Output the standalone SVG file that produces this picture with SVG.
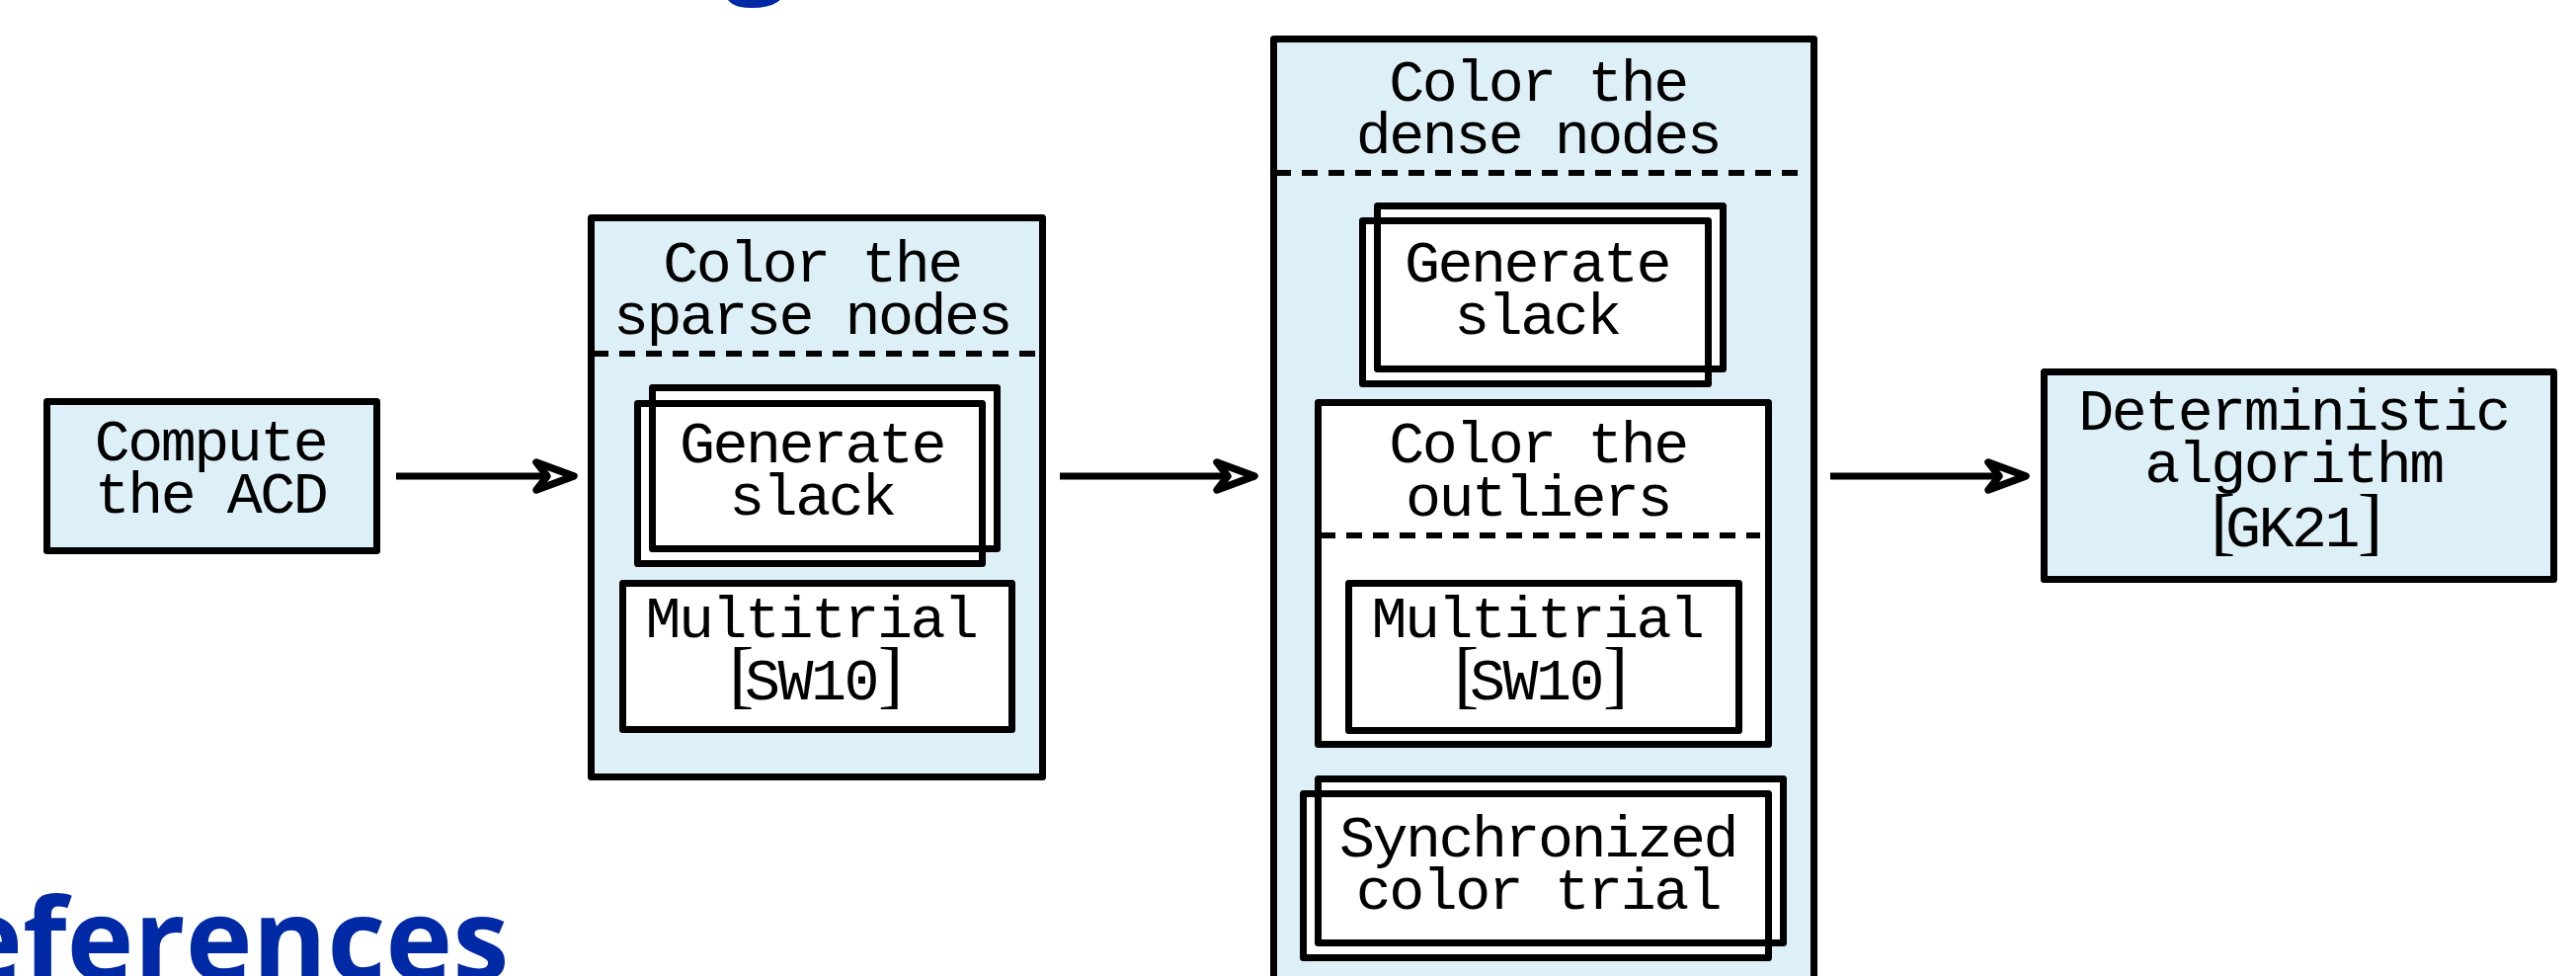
<svg xmlns="http://www.w3.org/2000/svg" width="2608" height="988" viewBox="0 0 2608 988">
<defs>
<style>
.box{stroke:#000;stroke-width:7;stroke-linejoin:round}
.line{fill:none;stroke:#000;stroke-width:7;stroke-linejoin:round}
.fillw{fill:#fff;stroke:none}
.blue{fill:#def0f7}
.white{fill:#fff}
.dash{stroke:#000;stroke-width:6;stroke-dasharray:16 11;fill:none}
.t{font-family:"Liberation Mono",monospace;font-size:60px;letter-spacing:-2.5px;fill:#000;text-anchor:middle}
.ts{text-anchor:start}
.br{font-family:"Liberation Serif",serif;font-size:76px;letter-spacing:0}
.title{font-family:"Open Sans","Noto Sans",sans-serif;font-weight:700;font-size:115px;fill:#0029a6}
.conn{stroke:#000;stroke-width:7;fill:none}
</style>
<marker id="arr" markerUnits="userSpaceOnUse" viewBox="-20 -20 60 40" refX="0" refY="0" markerWidth="60" markerHeight="40" orient="auto" overflow="visible">
<path d="M0,0 L-11,-14 L27,0 L-11,14 Z" fill="#fff" stroke="#000" stroke-width="7.5" stroke-linejoin="round"/>
</marker>
</defs>
<rect x="0" y="0" width="2608" height="988" fill="#fff"/>

<g id="titles">
<text class="title" x="766" y="-20" text-anchor="middle">g</text>
<text class="title" x="-45" y="992">eferences</text>
</g>

<g id="compute">
<rect class="box blue" x="47.5" y="406.5" width="334" height="151"/>
<text class="t"><tspan x="213" y="466">Compute</tspan><tspan x="213" y="519">the ACD</tspan></text>
</g>

<g id="sparse">
<rect class="box blue" x="598.5" y="220.5" width="457" height="566"/>
<text class="t"><tspan x="822" y="285">Color the</tspan><tspan x="822" y="338">sparse nodes</tspan></text>
<line class="dash" x1="600" y1="358" x2="1048" y2="358"/>
<g id="sparse-generate">
<rect class="fillw" x="660.5" y="392.5" width="349" height="163"/>
<rect class="fillw" x="645.5" y="408.5" width="349" height="162"/>
<rect class="line" x="660.5" y="392.5" width="349" height="163"/>
<rect class="line" x="645.5" y="408.5" width="349" height="162"/>
<text class="t"><tspan x="822" y="468">Generate</tspan><tspan x="822" y="521">slack</tspan></text>
</g>
<g id="sparse-multitrial">
<rect class="box white" x="630.5" y="590.5" width="394" height="148"/>
<text class="t"><tspan x="821" y="645">Multitrial</tspan></text>
<text class="t ts" y="708"><tspan class="br" x="738">[</tspan><tspan x="754">SW10</tspan><tspan class="br" x="889">]</tspan></text>
</g>
</g>

<g id="dense">
<rect class="box blue" x="1289.5" y="39.5" width="547" height="980"/>
<text class="t"><tspan x="1557" y="102">Color the</tspan><tspan x="1557" y="155">dense nodes</tspan></text>
<line class="dash" x1="1291" y1="175" x2="1830" y2="175"/>
<g id="dense-generate">
<rect class="fillw" x="1394.5" y="208.5" width="350" height="165"/>
<rect class="fillw" x="1379.5" y="223.5" width="350" height="165"/>
<rect class="line" x="1394.5" y="208.5" width="350" height="165"/>
<rect class="line" x="1379.5" y="223.5" width="350" height="165"/>
<text class="t"><tspan x="1556" y="285">Generate</tspan><tspan x="1556" y="338">slack</tspan></text>
</g>
<g id="outliers">
<rect class="box white" x="1334.5" y="407.5" width="456" height="346"/>
<text class="t"><tspan x="1557" y="468">Color the</tspan><tspan x="1557" y="522">outliers</tspan></text>
<line class="dash" x1="1336" y1="542" x2="1782" y2="542"/>
<g id="dense-multitrial">
<rect class="box white" x="1365.5" y="590.5" width="395" height="149"/>
<text class="t"><tspan x="1556" y="645">Multitrial</tspan></text>
<text class="t ts" y="708"><tspan class="br" x="1472">[</tspan><tspan x="1488">SW10</tspan><tspan class="br" x="1623">]</tspan></text>
</g>
</g>
<g id="synchronized">
<rect class="fillw" x="1334.5" y="788.5" width="471" height="166"/>
<rect class="fillw" x="1319.5" y="803.5" width="471" height="166"/>
<rect class="line" x="1334.5" y="788.5" width="471" height="166"/>
<rect class="line" x="1319.5" y="803.5" width="471" height="166"/>
<text class="t"><tspan x="1557" y="867">Synchronized</tspan><tspan x="1557" y="920">color trial</tspan></text>
</g>
</g>

<g id="deterministic">
<rect class="box blue" x="2069.5" y="376.5" width="516" height="210"/>
<text class="t"><tspan x="2322" y="435">Deterministic</tspan><tspan x="2322" y="488">algorithm</tspan></text>
<text class="t ts" y="553"><tspan class="br" x="2238">[</tspan><tspan x="2253">GK21</tspan><tspan class="br" x="2387">]</tspan></text>
</g>

<g id="connectors">
<line class="conn" x1="401" y1="482" x2="554" y2="482" marker-end="url(#arr)"/>
<line class="conn" x1="1073" y1="482" x2="1243" y2="482" marker-end="url(#arr)"/>
<line class="conn" x1="1853" y1="482" x2="2024" y2="482" marker-end="url(#arr)"/>
</g>
</svg>
